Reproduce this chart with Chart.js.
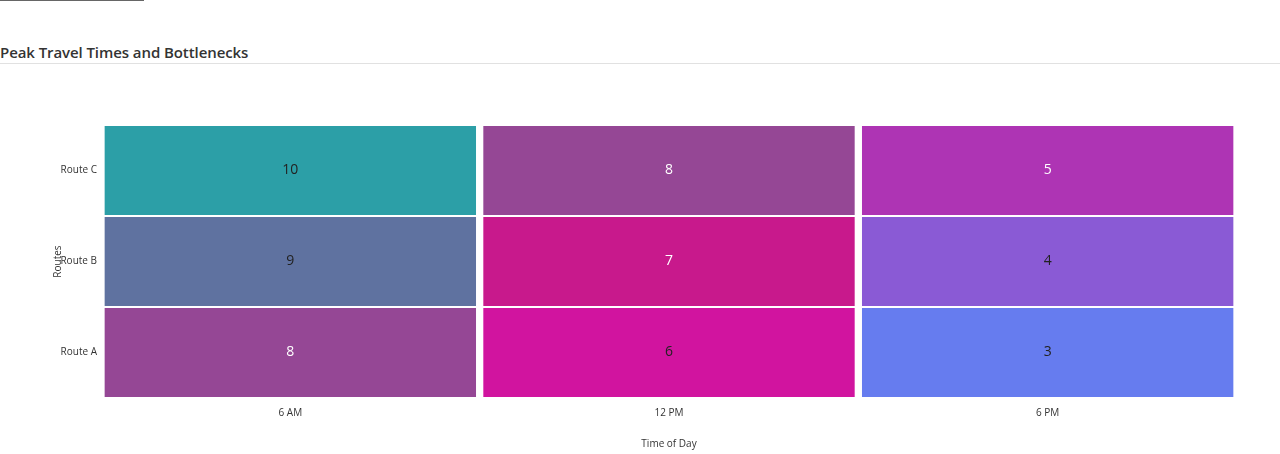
<!DOCTYPE html>
<html>
<head>
<meta charset="utf-8">
<script src="https://cdn.jsdelivr.net/npm/chart.js@4"></script>
<style>
  html, body { margin: 0; padding: 0; background: #fff; width: 1280px; height: 454px; overflow: hidden; font-family: "Open Sans", "Noto Sans", sans-serif; }
  #tabbar { position: absolute; left: 0; top: 0; width: 144px; height: 1px; background: #666; }
  #title { position: absolute; left: 0; top: 42px; font-size: 15px; font-weight: 600; color: #333; white-space: nowrap; letter-spacing: -0.08px; }
  #rule { position: absolute; left: 0; top: 63px; width: 1280px; height: 1px; background: #e1e1e1; }
  #wrap { position: absolute; left: 0; top: 64px; width: 1280px; height: 390px; }
</style>
</head>
<body>
<div id="tabbar"></div>
<div id="title">Peak Travel Times and Bottlenecks</div>
<div id="rule"></div>
<div id="wrap"><canvas id="c"></canvas></div>
<script>
const times = ['6 AM', '12 PM', '6 PM'];
const routes = ['Route A', 'Route B', 'Route C'];
const routeA = [8, 6, 3];
const routeB = [9, 7, 4];
const routeC = [10, 8, 5];
const xTitle = 'Time of Day';
const yTitle = 'Routes';

const seriesByRoute = [routeA, routeB, routeC];

const palette = {
  3: '#667cef', 4: '#8a5ad5', 5: '#ae34b4', 6: '#d1149f',
  7: '#c8198c', 8: '#954795', 9: '#5f72a0', 10: '#2c9fa7'
};
const labelColors = {
  3: '#222', 4: '#222', 5: '#fff', 6: '#222',
  7: '#fff', 8: '#fff', 9: '#222', 10: '#222'
};

const datasets = routes.map((r, i) => ({
  label: r,
  data: seriesByRoute[i].map(() => [i, i + 1]),
  values: seriesByRoute[i],
  backgroundColor: seriesByRoute[i].map(v => palette[v]),
  borderColor: '#ffffff',
  borderWidth: 1,
  borderSkipped: false,
  grouped: false,
  barPercentage: 1,
  categoryPercentage: 0.986
}));

const cellLabels = {
  id: 'cellLabels',
  afterDatasetsDraw(chart) {
    const ctx = chart.ctx;
    ctx.save();
    ctx.font = '14px "Open Sans", "Noto Sans", sans-serif';
    ctx.textAlign = 'center';
    ctx.textBaseline = 'middle';
    chart.data.datasets.forEach((ds, di) => {
      const meta = chart.getDatasetMeta(di);
      meta.data.forEach((bar, j) => {
        const v = ds.values[j];
        const p = bar.getProps(['x', 'y', 'base'], true);
        ctx.fillStyle = labelColors[v];
        ctx.fillText(String(v), p.x, (p.y + p.base) / 2);
      });
    });
    ctx.restore();
  }
};

const fontFam = '"Open Sans", "Noto Sans", sans-serif';

new Chart(document.getElementById('c'), {
  type: 'bar',
  data: { labels: times, datasets },
  plugins: [cellLabels],
  options: {
    responsive: true,
    maintainAspectRatio: false,
    animation: false,
    layout: { padding: { left: 52, right: 43, top: 61, bottom: 4 } },
    plugins: { legend: { display: false }, tooltip: { enabled: false }, title: { display: false } },
    scales: {
      x: {
        type: 'category',
        grid: { display: false, drawTicks: false },
        border: { display: false },
        ticks: { color: '#333', font: { family: fontFam, size: 10 }, padding: 9 },
        title: { display: true, text: xTitle, color: '#333', font: { family: fontFam, size: 10 }, padding: { top: 10, bottom: 0 } }
      },
      y: {
        type: 'linear',
        min: 0,
        max: 3,
        grid: { display: false, drawTicks: false },
        border: { display: false },
        afterBuildTicks(scale) {
          scale.ticks = routes.map((r, i) => ({ value: i + 0.5 }));
        },
        afterFit(scale) { scale.width = 49; },
        ticks: {
          color: '#333',
          font: { family: fontFam, size: 10 },
          padding: 4,
          callback: (val) => routes[Math.floor(val)]
        },
        title: { display: true, text: yTitle, color: '#333', font: { family: fontFam, size: 10 }, padding: { top: 0, bottom: 0 } }
      }
    }
  }
});
</script>
</body>
</html>
